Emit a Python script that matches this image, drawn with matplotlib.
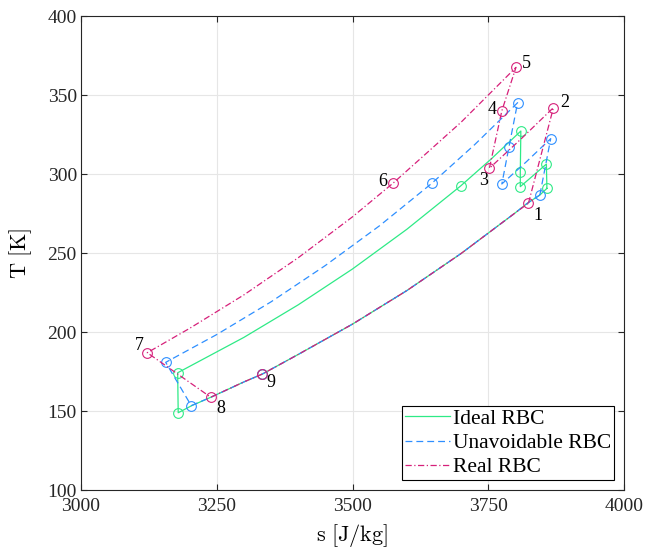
import matplotlib.pyplot as plt

plt.rcParams['font.family'] = ['Liberation Serif', 'DejaVu Serif']
plt.rcParams['mathtext.fontset'] = 'cm'

# state points (s [J/kg], T [K])
ideal_s = [3858, 3857, 3809, 3809, 3810, 3699, 3178, 3179, 3334]
ideal_T = [290.9, 306.3, 292.0, 301.5, 327.2, 292.4, 174.2, 148.9, 173.4]

unav_s = [3845, 3865, 3775, 3788, 3804, 3646, 3156, 3203, 3334]
unav_T = [286.7, 322.4, 293.7, 316.9, 345.1, 294.1, 180.8, 153.4, 173.4]

real_s = [3824, 3870, 3752, 3775, 3801, 3575, 3122, 3239, 3334]
real_T = [281.5, 342.0, 303.6, 340.0, 367.5, 294.3, 186.9, 158.7, 173.4]
real_lbl = ['1', '2', '3', '4', '5', '6', '7', '8', '9']

# line paths through the cycles
ideal_path_s = [3858, 3857, 3833, 3809, 3809, 3810, 3755, 3699, 3600, 3500, 3400, 3300, 3178,
                3179, 3204, 3239, 3300, 3334, 3400, 3500, 3600, 3700, 3800, 3822, 3845, 3858]
ideal_path_T = [290.9, 306.3, 299.1, 292.0, 301.5, 327.2, 309.4, 292.4, 265.0, 239.9, 217.2, 196.6, 174.2,
                148.9, 153.4, 158.7, 168.4, 173.4, 185.8, 205.0, 226.2, 249.7, 275.5, 281.5, 286.7, 290.9]

unav_path_s = [3845, 3865, 3820, 3775, 3788, 3804, 3725, 3646, 3550, 3450, 3350, 3250, 3156,
               3203, 3239, 3300, 3334, 3400, 3500, 3600, 3700, 3800, 3822, 3845]
unav_path_T = [286.7, 322.4, 307.7, 293.7, 316.9, 345.1, 318.6, 294.1, 267.3, 242.1, 219.1, 198.4, 180.8,
               153.4, 158.7, 168.4, 173.4, 185.8, 205.0, 226.2, 249.7, 275.5, 281.5, 286.7]

real_path_s = [3824, 3870, 3811, 3752, 3775, 3801, 3700, 3575, 3500, 3400, 3300, 3200, 3122,
               3239, 3300, 3334, 3400, 3500, 3600, 3700, 3800, 3824]
real_path_T = [281.5, 342.0, 322.4, 303.6, 340.0, 367.5, 332.8, 294.3, 272.9, 247.0, 223.5, 202.3, 186.9,
               158.7, 168.4, 173.4, 185.8, 205.0, 226.2, 249.7, 275.5, 281.5]

c_ideal = '#2EEA86'
c_unav = '#2E8FFF'
c_real = '#D6207A'

fig = plt.figure(figsize=(6.48, 5.56), dpi=100)
ax = fig.add_axes([0.125, 0.1187, 0.838, 0.8525])

lw = 0.9
ax.plot(ideal_path_s, ideal_path_T, color=c_ideal, lw=lw, label='Ideal RBC', zorder=3)
ax.plot(ideal_s, ideal_T, ls='none', marker='o', ms=7, mfc='none', mec=c_ideal, mew=0.8, zorder=3)

ax.plot(unav_path_s, unav_path_T, color=c_unav, lw=lw, dashes=(5.5, 3.2), label='Unavoidable RBC', zorder=4)
ax.plot(unav_s, unav_T, ls='none', marker='o', ms=7, mfc='none', mec=c_unav, mew=0.8, zorder=4)

ax.plot(real_path_s, real_path_T, color=c_real, lw=lw, dashes=(5, 2, 1, 2), label='Real RBC', zorder=5)
ax.plot(real_s, real_T, ls='none', marker='o', ms=7, mfc='none', mec=c_real, mew=0.8, zorder=5)

# state point numbers (offsets in points, label centre)
offs = {'1': (6.5, -8.6), '2': (8.2, 3.8), '3': (-4.0, -8.6), '4': (-7.2, 0.7), '5': (7.6, 3.0),
        '6': (-7.6, 1.4), '7': (-5.6, 5.2), '8': (7.4, -8.0), '9': (6.0, -6.2)}
for s, T, lab in zip(real_s, real_T, real_lbl):
    ax.annotate(lab, (s, T), xytext=offs[lab], textcoords='offset points',
                fontsize=13, ha='center', va='center')

ax.set_xlim(3000, 4000)
ax.set_ylim(100, 400)
ax.set_xticks([3000, 3250, 3500, 3750, 4000])
ax.set_yticks([100, 150, 200, 250, 300, 350, 400])
ax.grid(True, color='#e6e6e6', lw=0.8)
ax.set_axisbelow(True)
ax.tick_params(direction='in', top=True, right=True, labelsize=14, length=4, width=0.8,
               colors='#262626')
ax.tick_params(axis='x', pad=6)
ax.tick_params(axis='y', pad=3)
for sp in ax.spines.values():
    sp.set_color('#262626')
    sp.set_linewidth(0.8)

ax.set_xlabel(r'$\mathrm{s\ [J/kg]}$', fontsize=16, labelpad=5)
ax.set_ylabel(r'$\mathrm{T\ [K]}$', fontsize=16, labelpad=10)

leg = ax.legend(loc='lower right', bbox_to_anchor=(0.982, 0.021), borderaxespad=0,
                fancybox=False, edgecolor='black', framealpha=1, fontsize=15.5,
                handlelength=2.1, handletextpad=0.15, borderpad=0.12, labelspacing=0.2)
leg.get_frame().set_linewidth(0.8)

fig.savefig('out.png', dpi=100)
